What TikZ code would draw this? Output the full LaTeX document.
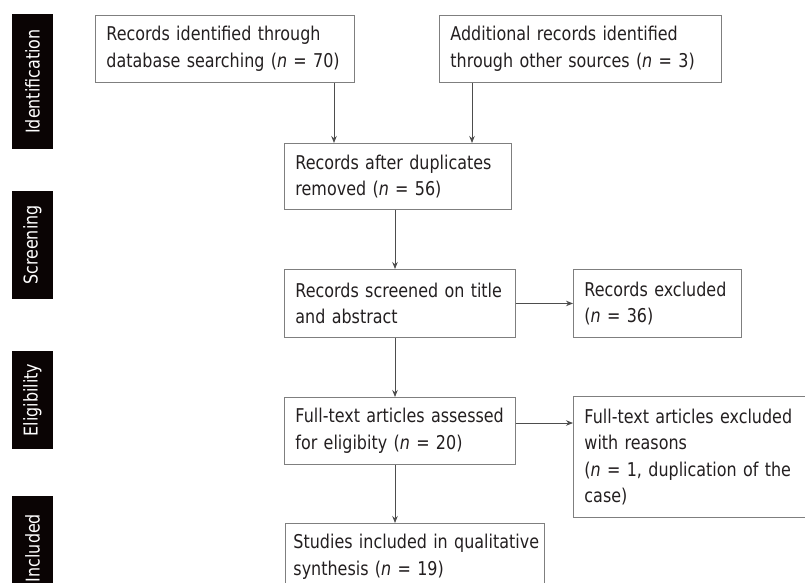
\documentclass[tikz,border=0pt]{standalone}
\usepackage{fontspec}
\setmainfont[FakeStretch=0.84]{DejaVu Sans}
\usetikzlibrary{arrows.meta, positioning}
\definecolor{boxgray}{HTML}{7F7F7F}
\definecolor{linegray}{HTML}{4D4D4D}
\definecolor{inkdark}{HTML}{231F20}
\definecolor{barblack}{HTML}{0A0404}

\begin{document}
\begin{tikzpicture}[x=1pt, y=-1pt, >={Stealth[length=7pt, width=5.5pt]},
  box/.style={draw=boxgray, line width=0.9pt, anchor=north west, align=left,
    inner xsep=11pt, inner ysep=0pt, text=inkdark, font=\fontsize{19}{26.5}\selectfont},
  phase/.style={fill=barblack, text=white, rotate=90, inner sep=0pt,
    minimum height=41pt, font=\fontsize{19}{22}\selectfont},
  flow/.style={->, draw=linegray, line width=0.9pt}]
  \useasboundingbox (0,0) rectangle (805,582);
  \clip (0,0) rectangle (805,582);

  % ---- Phase bars ----
  \node[phase, minimum width=135pt] (pId)  at (32.5, 81.5) {Identification};
  \node[phase, minimum width=108pt] (pScr) at (32.5,245)   {Screening};
  \node[phase, minimum width=98pt]  (pElg) at (32.5,400)   {Eligibility};
  \node[phase, minimum width=104pt] (pInc) at (32.5,548)   {Included};

  % ---- Identification ----
  \node[box, text width=237pt, minimum height=67pt] (rec) at (95,15)
    {Records identified through\\database searching (\textit{n} = 70)};
  \node[box, text width=260pt, minimum height=67pt] (add) at (439,15)
    {Additional records identified\\through other sources (\textit{n} = 3)};
  \node[box, text width=205pt, minimum height=66pt] (dup) at (284,143)
    {Records after duplicates\\removed (\textit{n} = 56)};

  % ---- Screening ----
  \node[box, text width=209pt, minimum height=68pt] (scr) at (284,269)
    {Records screened on title\\and abstract};
  \node[box, text width=146pt, minimum height=68pt] (exc) at (573,269)
    {Records excluded\\(\textit{n} = 36)};

  % ---- Eligibility ----
  \node[box, text width=209pt, minimum height=67pt] (full) at (284,397)
    {\mbox{Full-text articles assessed}\\for eligibity (\textit{n} = 20)};
  \node[box, text width=244pt, minimum height=121pt] (fexc) at (573,396)
    {Full-text articles excluded\\with reasons\\(\textit{n} = 1, duplication of the\\case)};

  % ---- Included ----
  \node[box, inner xsep=8pt, text width=243pt, minimum height=67pt] (inc) at (285,523)
    {\mbox{Studies included in qualitative}\\synthesis (\textit{n} = 19)};

  % ---- Connectors ----
  \coordinate (colA) at (334,0);
  \coordinate (colB) at (472,0);
  \coordinate (colC) at (395,0);
  \coordinate (rowE) at (0,423);
  \draw[flow] (rec.south -| colA) -- (dup.north -| colA);
  \draw[flow] (add.south -| colB) -- (dup.north -| colB);
  \draw[flow] (dup.south -| colC) -- (scr.north -| colC);
  \draw[flow] (scr.east) -- (exc.west);
  \draw[flow] (scr.south -| colC) -- (full.north -| colC);
  \draw[flow] (full.east |- rowE) -- (fexc.west |- rowE);
  \draw[flow] (full.south -| colC) -- (inc.north -| colC);
\end{tikzpicture}
\end{document}
